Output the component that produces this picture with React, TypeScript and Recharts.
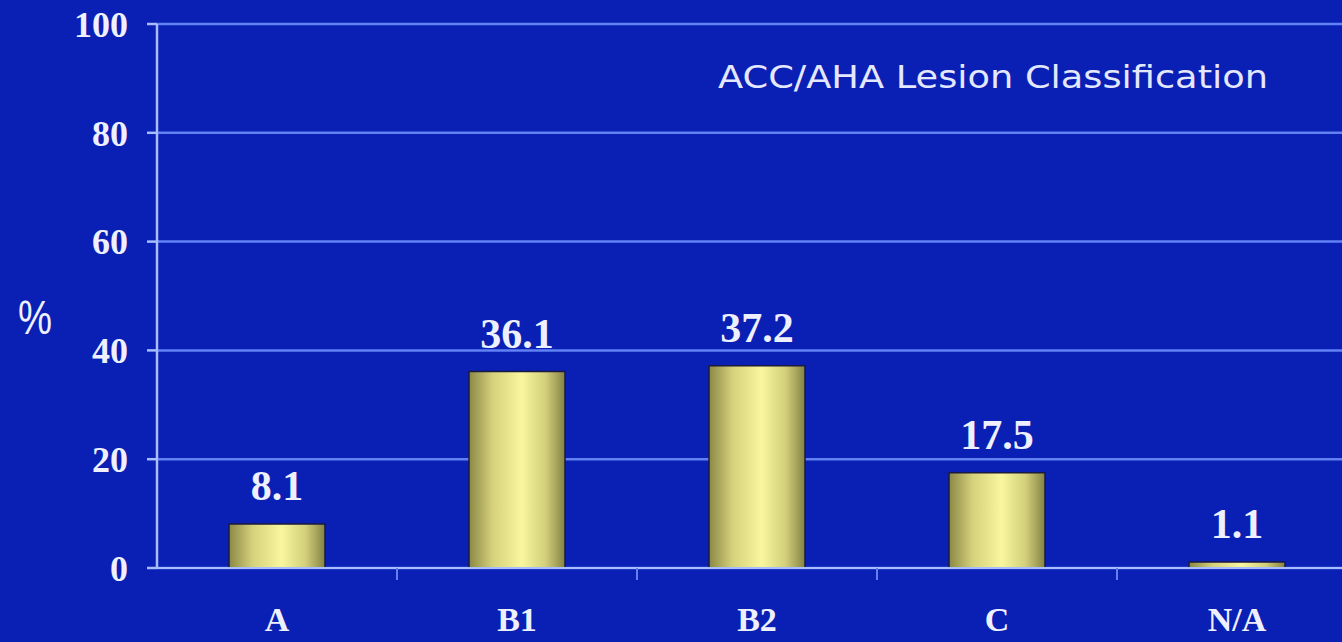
import { BarChart, Bar, XAxis, YAxis, CartesianGrid, LabelList } from "recharts";

const categories = ["A", "B1", "B2", "C", "N/A"];
const percents = [8.1, 36.1, 37.2, 17.5, 1.1];
const yTicks = [0, 20, 40, 60, 80, 100];

const data = categories.map((name, i) => ({ name, value: percents[i] }));

const CHART_W = 1357;
const Y_AXIS_W = 157;
const BAND = (CHART_W - Y_AXIS_W) / categories.length;

const BG = "#0a1fb3";
const GRID = "#6282f4";
const AXIS = "#a8bcff";
const TEXT = "#eef0ff";
const SERIF = "'Liberation Serif', 'DejaVu Serif', serif";

// category label plus the little separator tick between categories
function CategoryTick(props: any) {
  const { x, y, payload, index } = props;
  return (
    <g>
      <text
        x={x}
        y={y + 63}
        textAnchor="middle"
        fill={TEXT}
        fontFamily={SERIF}
        fontWeight="bold"
        fontSize={34}
      >
        {payload.value}
      </text>
      {index < categories.length - 1 && (
        <line x1={x + BAND / 2} x2={x + BAND / 2} y1={y} y2={y + 12} stroke={GRID} strokeWidth={2} />
      )}
    </g>
  );
}

export default function App() {
  return (
    <div
      style={{
        position: "absolute",
        left: 0,
        top: 0,
        width: 1342,
        height: 642,
        overflow: "hidden",
        background: BG,
      }}
    >
      <BarChart
        width={CHART_W}
        height={642}
        data={data}
        margin={{ top: 24, right: 0, bottom: 0, left: 0 }}
        barSize={96}
      >
        <defs>
          <linearGradient id="barFill" x1="0" y1="0" x2="1" y2="0">
            <stop offset="0%" stopColor="#8a8846" />
            <stop offset="25%" stopColor="#d6d27c" />
            <stop offset="55%" stopColor="#f8f69e" />
            <stop offset="80%" stopColor="#d2ce7a" />
            <stop offset="100%" stopColor="#858244" />
          </linearGradient>
        </defs>
        <CartesianGrid vertical={false} stroke={GRID} strokeWidth={2.5} />
        <XAxis
          dataKey="name"
          height={74}
          axisLine={{ stroke: AXIS, strokeWidth: 2 }}
          tickLine={false}
          tickSize={0}
          tickMargin={0}
          tick={<CategoryTick />}
          interval={0}
        />
        <YAxis
          width={Y_AXIS_W}
          domain={[0, 100]}
          ticks={yTicks}
          interval={0}
          axisLine={{ stroke: AXIS, strokeWidth: 2.5 }}
          tickLine={{ stroke: AXIS, strokeWidth: 2.5 }}
          tickSize={10}
          tickMargin={19}
          tick={{ fill: TEXT, fontFamily: SERIF, fontWeight: "bold", fontSize: 36 }}
        />
        <Bar
          dataKey="value"
          fill="url(#barFill)"
          stroke="#1a1a40"
          strokeWidth={1.5}
          isAnimationActive={false}
        >
          <LabelList
            dataKey="value"
            position="top"
            offset={24}
            fill={TEXT}
            fontFamily={SERIF}
            fontWeight="bold"
            fontSize={42}
            formatter={(v: number) => v.toFixed(1)}
          />
        </Bar>
        <text
          x={993}
          y={88}
          textAnchor="middle"
          fill="#e4e8ff"
          fontFamily="'DejaVu Sans', 'Liberation Sans', sans-serif"
          fontSize={32}
          textLength={550}
          lengthAdjust="spacingAndGlyphs"
        >
          ACC/AHA Lesion Classification
        </text>
        <text
          x={35}
          y={334}
          textAnchor="middle"
          fill={TEXT}
          fontFamily="'Liberation Sans', sans-serif"
          fontSize={48}
          textLength={34}
          lengthAdjust="spacingAndGlyphs"
        >
          %
        </text>
      </BarChart>
    </div>
  );
}
